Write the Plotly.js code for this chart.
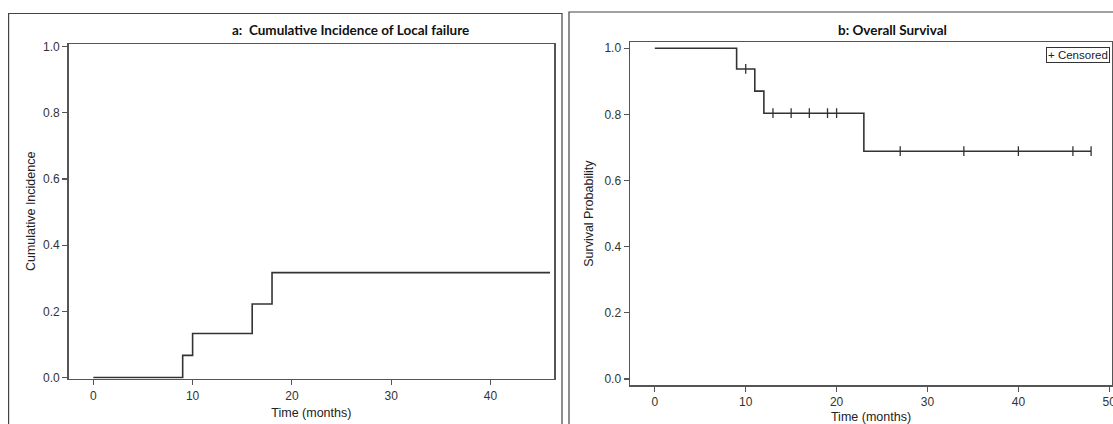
<!DOCTYPE html>
<html><head><meta charset="utf-8">
<script src="https://cdn.plot.ly/plotly-3.0.1.min.js"></script>
<style>html,body{margin:0;padding:0;background:#fff}</style>
</head><body><div id="chart" style="width:1113px;height:424px"></div>
<script>
// Panel a: cumulative incidence of local failure (step function)
const ciTime = [0, 9, 10, 16, 18, 46];
const ciValue = [0, 0.067, 0.133, 0.222, 0.317, 0.317];
// Panel b: overall survival (Kaplan-Meier)
const osTime = [0, 9, 11, 12, 23, 48];
const osValue = [1.0, 0.9375, 0.8705, 0.8036, 0.6888, 0.6888];
const censorTime = [10, 13, 15, 17, 19, 20, 27, 34, 40, 46, 48];
const censorValue = [0.9375, 0.8036, 0.8036, 0.8036, 0.8036, 0.8036, 0.6888, 0.6888, 0.6888, 0.6888, 0.6888];
const xTicksA = [0, 10, 20, 30, 40];
const xTicksB = [0, 10, 20, 30, 40, 50];
const yTicks = [0, 0.2, 0.4, 0.6, 0.8, 1.0];
const yTickLabels = ['0.0', '0.2', '0.4', '0.6', '0.8', '1.0'];

const W = 1113, H = 424;
const px = v => v / W, py = v => (H - v) / H;
const axisColor = '#555';
const lineColor = '#333';
const tickFont = {family: 'Liberation Sans, Arial, sans-serif', size: 12, color: '#333'};
const titleFont = {family: 'Liberation Sans, Arial, sans-serif', size: 12.5, color: '#222'};

const traces = [
  {x: ciTime, y: ciValue, type: 'scatter', mode: 'lines', line: {shape: 'hv', color: lineColor, width: 1.6},
   xaxis: 'x', yaxis: 'y', showlegend: false},
  {x: osTime, y: osValue, type: 'scatter', mode: 'lines', line: {shape: 'hv', color: lineColor, width: 1.6},
   xaxis: 'x2', yaxis: 'y2', showlegend: false},
  {x: censorTime, y: censorValue, type: 'scatter', mode: 'markers', name: 'Censored',
   marker: {symbol: 'line-ns-open', size: 7, color: lineColor, line: {color: lineColor, width: 1.3}},
   xaxis: 'x2', yaxis: 'y2', showlegend: false}
];

const baseAxis = {
  showline: true, mirror: true, linecolor: axisColor, linewidth: 1.5,
  ticks: 'outside', ticklen: 5, tickwidth: 1.2, tickcolor: axisColor,
  showgrid: false, zeroline: false, tickfont: tickFont, fixedrange: true,
  ticklabeloverflow: 'allow'
};

const layout = {
  width: W, height: H,
  margin: {l: 0, r: 0, t: 0, b: 0},
  paper_bgcolor: '#fff', plot_bgcolor: '#fff',
  xaxis: Object.assign({}, baseAxis, {
    domain: [px(68.7), px(554)], range: [-2.48, 46.4], tickvals: xTicksA, ticktext: xTicksA.map(String),
    anchor: 'y', title: {text: 'Time (months)', font: titleFont, standoff: 6}
  }),
  yaxis: Object.assign({}, baseAxis, {
    domain: [py(378.7), py(44)], range: [-0.0036, 1.008], tickvals: yTicks, ticktext: yTickLabels,
    anchor: 'x', title: {text: 'Cumulative Incidence', font: titleFont, standoff: 4}
  }),
  xaxis2: Object.assign({}, baseAxis, {
    domain: [px(630), px(1112)], range: [-2.73, 50.3], tickvals: xTicksB, ticktext: xTicksB.map(String),
    anchor: 'y2', title: {text: 'Time (months)', font: titleFont, standoff: 6}
  }),
  yaxis2: Object.assign({}, baseAxis, {
    domain: [py(385), py(42.3)], range: [-0.018, 1.018], tickvals: yTicks, ticktext: yTickLabels,
    anchor: 'x2', title: {text: 'Survival Probability', font: titleFont, standoff: 8}
  }),
  shapes: [
    {type: 'rect', xref: 'paper', yref: 'paper', x0: px(8.6), x1: px(562), y0: -0.1, y1: py(13.5),
     line: {color: '#444', width: 1.2}, fillcolor: 'rgba(0,0,0,0)', layer: 'below'},
    {type: 'rect', xref: 'paper', yref: 'paper', x0: px(569), x1: 1.1, y0: -0.1, y1: py(12),
     line: {color: '#444', width: 1.2}, fillcolor: 'rgba(0,0,0,0)', layer: 'below'}
  ],
  annotations: [
    {text: '<b>a:&nbsp; Cumulative Incidence of Local failure</b>', xref: 'paper', yref: 'paper',
     x: px(350), y: py(30), xanchor: 'center', yanchor: 'middle', showarrow: false,
     font: {family: 'Lato, Carlito, sans-serif', size: 13.5, color: '#111'}},
    {text: '<b>b: Overall Survival</b>', xref: 'paper', yref: 'paper',
     x: px(892), y: py(30), xanchor: 'center', yanchor: 'middle', showarrow: false,
     font: {family: 'Lato, Carlito, sans-serif', size: 13.5, color: '#111'}},
    {text: '+ Censored', xref: 'paper', yref: 'paper', x: px(1110), y: py(47),
     xanchor: 'right', yanchor: 'top', showarrow: false, bordercolor: '#333', borderwidth: 1, borderpad: 1,
     bgcolor: '#fff', font: {family: 'Liberation Sans, Arial, sans-serif', size: 11.5, color: '#222'}}
  ]
};

Plotly.newPlot('chart', traces, layout, {displayModeBar: false, staticPlot: true});
</script>
</body></html>
